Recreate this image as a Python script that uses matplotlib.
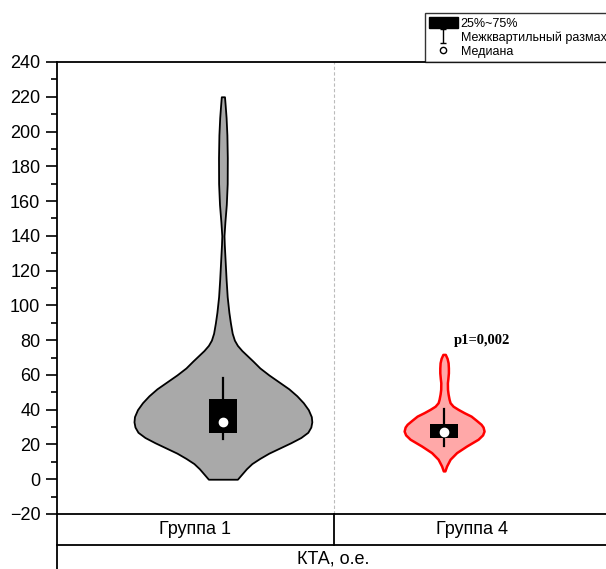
import numpy as np
import matplotlib
matplotlib.use('Agg')
import matplotlib.pyplot as plt
from matplotlib.patches import Patch
from matplotlib.lines import Line2D
from matplotlib.path import Path
from matplotlib.ticker import MultipleLocator

plt.rcParams['font.family'] = ['Liberation Sans', 'DejaVu Sans']

groups = ['Группа 1', 'Группа 4']
axis_title = 'КТА, о.е.'

# density profiles (value, relative density)
g1_vals = [0, 3, 6, 9, 12, 15, 18, 21, 24, 27, 30, 33, 36, 40, 44, 48, 52, 56, 60, 64,
           68, 71, 74, 77, 80, 84, 90, 96, 105, 115, 125, 135, 140, 148, 158, 170, 185,
           198, 208, 215, 220]
g1_dens = [14.5, 19, 23.5, 29, 37, 46, 57, 68, 78, 85, 88, 89, 88.5, 85.5, 80.5, 74, 66,
           56, 46, 37, 30, 24.5, 19, 14.5, 11.5, 9.3, 7.5, 6, 4.3, 3.2, 2.3, 1.4, 1.1, 2,
           3.4, 4.3, 4.4, 4, 3.2, 2.3, 1.6]
g4_vals = [4.8, 7.6, 11.5, 15.3, 19.1, 23, 25.5, 27.7, 30, 31.6, 34, 36.3, 38.3, 40.2, 42,
           44, 46, 49, 51.7, 55.5, 58, 61.2, 64, 67, 69.5, 71.8]
g4_dens = [0.8, 2.5, 6, 12.5, 22.5, 34, 38.5, 40, 39, 37, 32, 27, 20, 14, 9,
           6, 5, 4, 3.4, 3.3, 3.8, 4.3, 4.3, 4, 3, 1.2]

# box stats: q1, median, q3, whisker low, whisker high
q1 = [26.4, 23.5]
med = [32.9, 27.4]
q3 = [45.9, 31.6]
wlo = [23, 19.1]
whi = [58.4, 40.2]

p_text = 'p1=0,002'

fig = plt.figure(figsize=(6.06, 5.69), dpi=100)
ax = fig.add_axes([57/606, 55/569, 553/606, 452/569])

width_scale = 0.402 / 89.0
faces = ['#A9A9A9', '#FFA8A8']
edges = ['black', '#FF0000']
lws = [1.3, 1.8]
profiles = [(g1_vals, g1_dens), (g4_vals, g4_dens)]

for i, (vals, dens) in enumerate(profiles):
    c = i + 1
    v = np.array(vals)
    d = np.array(dens) * width_scale
    ax.fill_betweenx(v, c - d, c + d, facecolor=faces[i], edgecolor=edges[i],
                     linewidth=lws[i], zorder=2)
    ax.plot([c, c], [wlo[i], whi[i]], color='black', lw=1.6, zorder=3)
    ax.bar(c, q3[i] - q1[i], bottom=q1[i], width=0.128, color='black', zorder=4)
    ax.plot(c, med[i], 'o', ms=6, mfc='white', mec='white', zorder=5)

ax.text(2.17, 80, p_text, family='Liberation Serif', fontweight='bold',
        fontsize=10.5, ha='center', va='center')

ax.axvline(1.5, color='#BBBBBB', lw=0.8, ls=(0, (3, 2)), zorder=1)

ax.set_xlim(0.25, 2.75)
ax.set_ylim(-20, 240)
ax.yaxis.set_major_locator(MultipleLocator(20))
ax.yaxis.set_minor_locator(MultipleLocator(10))
ax.tick_params(axis='y', which='major', direction='out', length=8, width=1.2,
               labelsize=13, pad=4)
ax.tick_params(axis='y', which='minor', direction='out', length=4, width=1.2)
ax.set_xticks([])
ax.spines['right'].set_visible(False)
for s in ['left', 'top', 'bottom']:
    ax.spines[s].set_linewidth(1.3)

# category table under the axes
tr = ax.get_xaxis_transform()
row = 31 / 452
ax.plot([0.25, 2.75], [-row, -row], color='black', lw=1.3, transform=tr, clip_on=False)
ax.plot([1.5, 1.5], [0, -row], color='black', lw=1.3, transform=tr, clip_on=False)
ax.plot([0.25, 0.25], [0, -0.2], color='black', lw=1.3, transform=tr, clip_on=False)
cells = [(0.25 + 1.5) / 2, (1.5 + 2.75) / 2]
for cx, g in zip(cells, groups):
    ax.text(cx, -row / 2, g, transform=tr, ha='center', va='center', fontsize=13)
ax.text(1.5, -0.1, axis_title, transform=tr, ha='center', va='center', fontsize=13)

ibeam = Path([(-0.5, 1), (0.5, 1), (0, 1), (0, -1), (-0.5, -1), (0.5, -1)],
             [Path.MOVETO, Path.LINETO, Path.MOVETO, Path.LINETO, Path.MOVETO, Path.LINETO])
handles = [
    Patch(facecolor='black', edgecolor='black'),
    Line2D([], [], ls='none', marker=ibeam, color='black', ms=10, mew=1.0),
    Line2D([], [], ls='none', marker='o', mfc='white', mec='black', ms=4.5),
]
labels = ['25%~75%', 'Межквартильный размах', 'Медиана']
leg = fig.legend(handles, labels, loc='upper left', bbox_to_anchor=(425/606, 1 - 13/569),
                 fontsize=9, frameon=True, fancybox=False, edgecolor='black',
                 borderpad=0.35, labelspacing=0.12, handlelength=2.25, handleheight=0.9,
                 handletextpad=0.25, borderaxespad=0)
leg.get_frame().set_linewidth(1.0)

fig.savefig('out.png', dpi=100)
